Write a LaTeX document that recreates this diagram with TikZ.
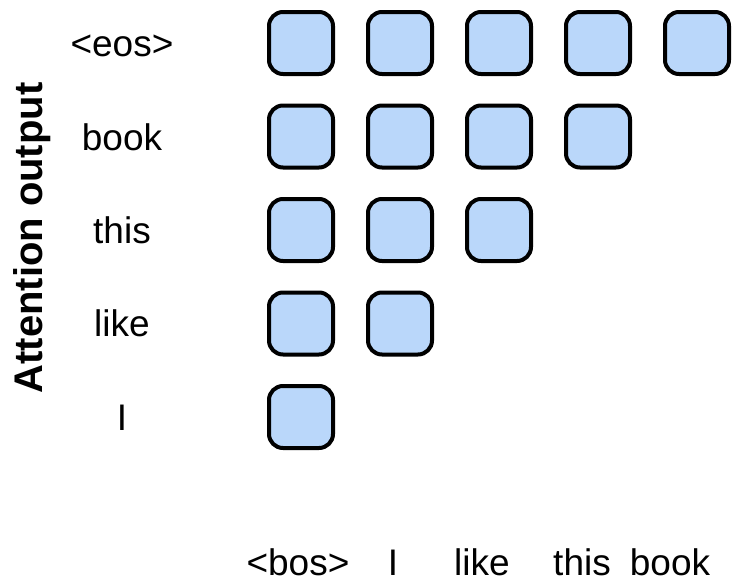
\documentclass[tikz,border=0pt]{standalone}
\usepackage{fontspec}
\setmainfont{Liberation Sans}
\definecolor{cellblue}{RGB}{186,215,250}
\begin{document}
\begin{tikzpicture}[x=1pt,y=-1pt,
  cell/.style={draw=black,fill=cellblue,line width=4pt,rounded corners=14pt,minimum width=64pt,minimum height=62pt,inner sep=0pt},
  lbl/.style={font=\fontsize{37}{40}\selectfont,inner sep=0pt,anchor=base}]
\useasboundingbox (0,0) rectangle (745,584);
% row labels
\node[lbl] (reos) at (122,56) {<eos>};
\node[lbl] (rbook) at (122,150) {book};
\node[lbl] (rthis) at (122,243) {this};
\node[lbl] (rlike) at (122,336) {like};
\node[lbl] (ri) at (122,430) {I};
% axis title
\node[lbl,font=\fontsize{40}{42}\selectfont\bfseries,rotate=90] (title) at (42,238) {Attention output};
% column labels
\node[lbl] (cbos) at (298,575) {<bos>};
\node[lbl] (ci) at (393,575) {I};
\node[lbl] (clike) at (482,575) {like};
\node[lbl] (cthis) at (582,575) {this};
\node[lbl] (cbook) at (670,575) {book};
% cells
\foreach \r/\y/\n in {1/43/5,2/136.5/4,3/230/3,4/323.5/2,5/417/1}{
  \foreach \c in {1,...,\n}{
    \node[cell] (c\r\c) at ({301+99*(\c-1)},\y) {};
  }
}
\end{tikzpicture}
\end{document}
